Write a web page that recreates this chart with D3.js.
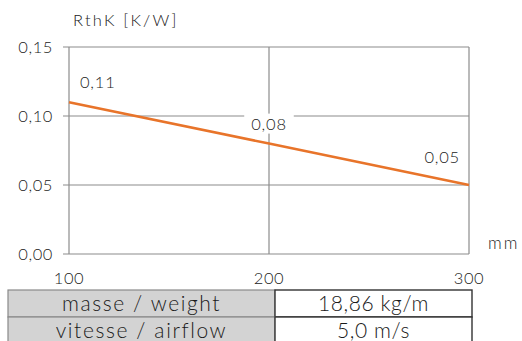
<!DOCTYPE html>
<html>
<head>
<meta charset="utf-8">
<script src="https://cdn.jsdelivr.net/npm/d3@7/dist/d3.min.js"></script>
<style>
  html, body { margin: 0; padding: 0; background: #fff; }
  svg { display: block; font-family: Lato, "Open Sans", sans-serif; font-weight: 300; }
</style>
</head>
<body>
<svg id="chart" width="522" height="341"></svg>
<script>
// Thermal resistance vs. profile length
const lengths = [100, 200, 300];
const rthk = [0.11, 0.08, 0.05];
const pointLabels = ["0,11", "0,08", "0,05"];
const xTicks = [100, 200, 300];
const yTicks = [0, 0.05, 0.10, 0.15];
const rowNames = ["masse / weight", "vitesse / airflow"];
const rowValues = ["18,86 kg/m", "5,0 m/s"];

(function draw() {
  const svg = d3.select("#chart");
  const plotL = 69, plotR = 469, plotT = 47, plotB = 254;
  const textColor = "#222";
  const gridColor = "#8c8c8c";

  const x = d3.scaleLinear().domain([100, 300]).range([plotL, plotR]);
  const y = d3.scaleLinear().domain([0, 0.15]).range([plotB, plotT]);
  const fmt = d => d3.format(".2f")(d).replace(".", ",");

  // gridlines and frame
  const g = svg.append("g");
  g.selectAll("line.hg").data(yTicks).join("line")
    .attr("x1", plotL - 6).attr("x2", plotR)
    .attr("y1", d => y(d)).attr("y2", d => y(d))
    .attr("stroke", gridColor).attr("stroke-width", 1.2);
  g.selectAll("line.vg").data(xTicks).join("line")
    .attr("x1", d => x(d)).attr("x2", d => x(d))
    .attr("y1", plotT).attr("y2", plotB)
    .attr("stroke", gridColor).attr("stroke-width", 1.2);

  // y tick labels
  svg.append("g").selectAll("text").data(yTicks).join("text")
    .attr("x", 53).attr("y", d => y(d) + 6)
    .attr("text-anchor", "end")
    .attr("font-size", 16.5).attr("letter-spacing", 0.6).attr("fill", textColor)
    .text(fmt);

  // x tick labels
  svg.append("g").selectAll("text").data(xTicks).join("text")
    .attr("x", d => x(d)).attr("y", 284)
    .attr("text-anchor", "middle")
    .attr("font-size", 16.5).attr("letter-spacing", 0.6).attr("fill", textColor)
    .text(d => d);

  // axis titles
  svg.append("text").attr("x", 73).attr("y", 26)
    .attr("font-size", 16.5).attr("letter-spacing", 2.2).attr("fill", textColor)
    .text("RthK [K/W]");
  svg.append("text").attr("x", 488).attr("y", 249)
    .attr("font-size", 17).attr("letter-spacing", 2).attr("fill", textColor)
    .text("mm");

  // data line
  const pts = lengths.map((d, i) => [d, rthk[i]]);
  svg.append("path")
    .datum(pts)
    .attr("fill", "none")
    .attr("stroke", "#e8742a")
    .attr("stroke-width", 2.6)
    .attr("d", d3.line().x(d => x(d[0])).y(d => y(d[1])));

  // point value labels
  const labelPos = [
    { dx: 11, dy: -14.5, anchor: "start" },
    { dx: 0, dy: -14, anchor: "middle" },
    { dx: -9, dy: -22, anchor: "end" }
  ];
  const lbl = svg.append("g");
  pts.forEach((p, i) => {
    const lp = labelPos[i];
    const tx = x(p[0]) + lp.dx, ty = y(p[1]) + lp.dy;
    const t = lbl.append("text")
      .attr("x", tx).attr("y", ty)
      .attr("text-anchor", lp.anchor)
      .attr("font-size", 16.5).attr("letter-spacing", 0.8).attr("fill", textColor)
      .text(pointLabels[i]);
    const bb = t.node().getBBox();
    lbl.insert("rect", () => t.node())
      .attr("x", bb.x - 7).attr("y", bb.y)
      .attr("width", bb.width + 14).attr("height", bb.height)
      .attr("fill", "#fff");
  });

  // properties table
  const tLeft = 8, tMid = 275, tRight = 472, tTop = 290, rowH = 27;
  const tbl = svg.append("g");
  rowNames.forEach((name, i) => {
    const ry = tTop + i * rowH;
    tbl.append("rect").attr("x", tLeft).attr("y", ry)
      .attr("width", tMid - tLeft).attr("height", rowH)
      .attr("fill", "#d3d3d3").attr("stroke", "#8a8a8a").attr("stroke-width", 1.2);
    tbl.append("rect").attr("x", tMid).attr("y", ry)
      .attr("width", tRight - tMid).attr("height", rowH)
      .attr("fill", "#fff").attr("stroke", "#333").attr("stroke-width", 1.4);
    tbl.append("text").attr("x", (tLeft + tMid) / 2).attr("y", ry + 20.5)
      .attr("text-anchor", "middle").attr("font-size", 21).attr("letter-spacing", 1.6)
      .attr("fill", "#1a1a1a")
      .text(name);
    tbl.append("text").attr("x", (tMid + tRight) / 2).attr("y", ry + 20.5)
      .attr("text-anchor", "middle").attr("font-size", 21).attr("letter-spacing", 0.6)
      .attr("fill", "#1a1a1a")
      .text(rowValues[i]);
  });
})();
</script>
</body>
</html>
